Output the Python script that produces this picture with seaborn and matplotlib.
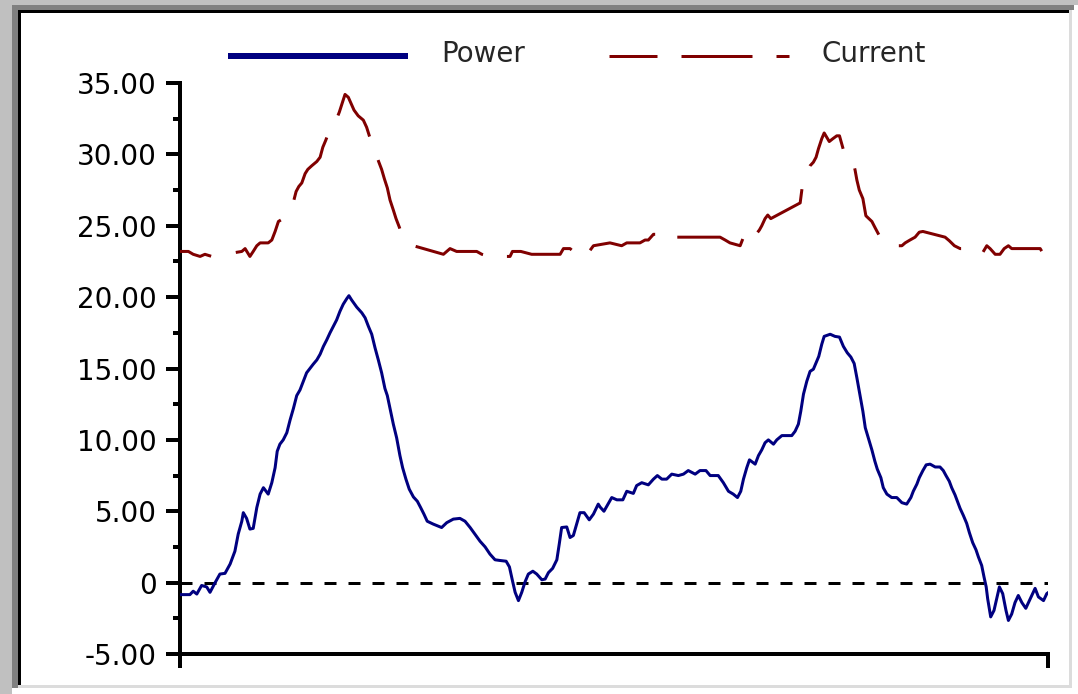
import matplotlib
matplotlib.use("Agg")
import matplotlib.pyplot as plt
from matplotlib.patches import Rectangle
from matplotlib.lines import Line2D
from matplotlib.legend_handler import HandlerLine2D
from matplotlib.ticker import FixedLocator, FuncFormatter
import numpy as np
import seaborn as sns
import pandas as pd

# ---------------- data ----------------
power_t = [0, 3.3, 4.4, 5.6, 7.2, 8.9, 10, 11.7, 13.3, 15, 16.7, 18.3, 19.4, 20.6, 21.1, 22.2,
           23.3, 24.4, 25.6, 26.7, 27.8, 29.4, 30.6, 31.7, 32.4, 33.3, 34.4, 35.6, 36.7, 37.8,
           38.9, 40, 41.1, 42.2, 43.3, 44.4, 45.6, 46.7, 47.8, 48.9, 50, 51.1, 52.2, 53.3, 54.4,
           55.6, 56.3, 57.2, 58.9, 60.6, 61.7, 62.8, 63.9, 65, 66.1, 67.2, 68.3, 69.1, 70, 71.1,
           72.2, 73.3, 74.2, 75.3, 76.4, 77.8, 79.1, 80.2, 81.3, 82.4, 84.4, 87.2, 88.9, 91.1,
           93.3, 95, 96.7, 98.3, 100, 101.7, 103.3, 105, 106.7, 108.7, 109.8, 110.8, 111.7,
           112.8, 113.9, 115, 116.1, 117.6, 118.9, 120.6, 121.7, 122.8, 124.2, 125.6, 126.4,
           127.2, 128.9, 130, 131.1, 132.2, 133.3, 134.7, 136.4, 137.8, 139.4,
           140, 141.3, 142.4, 143.9, 145.6, 147.6, 148.9, 151.1, 152.2, 153.9, 156.1, 157.8,
           159.1, 160.6, 162.2, 163.9, 166.1, 167.8, 169.4, 171.7, 173.3, 175.3, 176.7, 179.4,
           181.1, 182.8, 184.4, 185.8, 186.9, 187.8, 188.9, 189.8, 191.7, 192.8, 193.9, 195,
           196.1, 197.8, 198.9, 200.6, 203.9, 205, 206.1, 206.9, 207.8, 208.9, 210, 211.1, 212,
           212.9, 213.9, 214.7, 216.7, 218.3, 219.8, 221.1, 222.4, 223.6, 224.7, 225.6, 226.4,
           227.6, 228.4, 229.6, 230.6, 231.6, 232.4, 233.6, 234.4, 235.6, 237.2, 238.9, 240.6,
           242.2, 243.6, 244.4, 245.6, 246.4, 247.6, 248.7, 250, 251.7, 253.3, 254.4, 255.3,
           256.4, 257.2, 258.3, 259.2, 260, 261.1, 262.2, 263.1, 264.2, 265.3, 266.1, 267.2,
           268, 268.7, 269.2, 270.2, 271.3, 272.2, 273.1, 274.2, 275.3, 276.1, 277.2, 278.3,
           279.4, 280.6, 281.9, 283.1, 284.2, 285, 286.1, 287.8, 288.9, 290]
power = [-0.84, -0.84, -0.6, -0.8, -0.2, -0.3, -0.68, 0.0, 0.6, 0.65, 1.3, 2.2, 3.4, 4.3, 4.9,
         4.5, 3.75, 3.8, 5.26, 6.2, 6.65, 6.2, 7.0, 8.05, 9.2, 9.7, 10.0, 10.5, 11.4, 12.2, 13.1,
         13.5, 14.1, 14.7, 15.0, 15.3, 15.6, 16.0, 16.55, 17.0, 17.5, 17.95, 18.4, 19.0, 19.5,
         19.9, 20.1, 19.8, 19.3, 18.9, 18.55, 17.95, 17.4, 16.45, 15.6, 14.7, 13.6, 13.1, 12.2,
         11.1, 10.15, 8.9, 8.05, 7.25, 6.55, 6.0, 5.7, 5.26, 4.8, 4.3, 4.1, 3.86, 4.2, 4.45, 4.5,
         4.3, 3.86, 3.4, 2.9, 2.5, 2.0, 1.6, 1.55, 1.5, 1.1, 0.14, -0.68, -1.26, -0.68, 0.05,
         0.6, 0.8, 0.6, 0.2, 0.25, 0.7, 1.0, 1.6, 2.7, 3.86, 3.9, 3.16, 3.3, 4.1, 4.9, 4.9, 4.4,
         4.8, 5.5,
         5.3, 5.0, 5.4, 5.96, 5.8, 5.8, 6.4, 6.25, 6.8, 7.0, 6.85, 7.25, 7.5, 7.25, 7.25, 7.6,
         7.5, 7.6, 7.85, 7.6, 7.85, 7.85, 7.5, 7.5, 7.0, 6.4, 6.2, 5.96, 6.4, 7.25, 8.05, 8.6,
         8.3, 8.9, 9.3, 9.8, 10.0, 9.7, 10.0, 10.3, 10.3, 10.6, 11.1, 12.0, 13.2, 14.1, 14.8,
         14.95, 15.4, 15.85, 16.7, 17.25, 17.4, 17.25, 17.2, 16.55, 16.1, 15.8, 15.35, 14.35,
         13.4, 12.0, 10.85, 10.0, 9.3, 8.5, 7.95, 7.35, 6.65, 6.2, 5.96, 5.96, 5.6, 5.5, 5.96,
         6.4, 6.9, 7.35, 7.85, 8.25, 8.3, 8.1, 8.1, 7.85, 7.5, 7.1, 6.65, 6.15, 5.65, 5.2, 4.7,
         4.15, 3.5, 2.8, 2.3, 1.8, 1.2, 0.37, -0.3, -1.14, -2.4, -1.95, -1.14, -0.3, -0.77,
         -1.95, -2.65, -2.2, -1.4, -0.9, -1.4, -1.8, -1.26, -0.77, -0.4, -1.0, -1.26, -0.77, -0.6]

current_t = [0, 2.8, 4.4, 6.7, 8.3, 10.6, 20.6, 21.7, 23.3, 24.4, 25.6, 26.7, 29.4, 30.6, 31.7,
             32.8, 34.4, 35.6, 36.7, 37.6, 38.7, 39.6, 40.6, 41.7, 42.6, 43.9, 45.6, 46.7, 47.6,
             48.6, 49.4, 50.2, 51.1, 53.1, 55, 56.1, 58, 59.4, 61.1, 62.2, 63.1, 64.2, 65.2,
             66.2, 67.2, 68.1, 69.1, 70, 71.1, 72, 73.1, 74.1, 75.2, 76.2, 77.8, 87.8, 90, 92.2,
             98.9, 100.6, 103.3, 105, 106.7, 110, 110.8, 113.6, 117.2, 126.7, 127.8, 130, 131.1,
             132.8, 133.9, 135.6, 136.4, 137.8, 143.3, 147.2, 148.9, 150,
             151.7, 153.3, 155, 156.1, 157.8, 159.4, 161.1, 162.2, 163.3, 170,
             180, 181.7, 183.3, 186.7, 187.8, 188.9, 189.8, 190.9, 192, 193.1, 193.9, 195, 195.9,
             196.9, 206.7, 207.8, 208.9, 210, 211.1, 212, 212.8, 213.9, 214.7, 216.4, 217.6,
             218.9, 219.8, 221.4, 222.8, 224.4, 225, 225.6, 226.4, 227.6, 228.6, 230.6, 231.7,
             232.6, 233.6, 235, 236.7, 240.6, 241.7, 243.3, 245, 246.4, 247.6, 255, 256.4, 258.1,
             260, 262.2, 263.3, 265.6, 267.2, 268.9, 270, 271.7, 273.3, 274.7, 276.1, 277.2,
             286.7, 287.8]
current = [23.2, 23.2, 23.0, 22.85, 23.0, 22.85, 23.2, 23.4, 22.85, 23.2, 23.6, 23.8, 23.8,
           24.0, 24.6, 25.3, 25.5, 25.75, 26.3, 26.5, 27.4, 27.75, 28.0, 28.65, 28.95, 29.2,
           29.5, 29.8, 30.5, 31.0, 31.45, 31.7, 31.9, 32.96, 34.2, 34.0, 33.1, 32.7, 32.4, 31.9,
           31.3, 30.7, 30.1, 29.5, 28.95, 28.3, 27.65, 26.8, 26.1, 25.5, 24.9, 24.3, 24.0, 23.8,
           23.6, 23.0, 23.4, 23.2, 23.2, 23.0, 22.85, 23.0, 22.85, 22.85, 23.2, 23.2, 23.0,
           23.0, 23.4, 23.4, 23.2, 23.2, 23.6, 23.4, 23.2, 23.6, 23.8, 23.6, 23.8, 23.8,
           23.8, 23.8, 24.0, 24.0, 24.4, 24.4, 24.2, 24.0, 24.2, 24.2,
           24.2, 24.0, 23.8, 23.6, 24.2, 24.7, 24.85, 24.6, 24.4, 24.7, 25.0, 25.5, 25.75,
           25.5, 26.6, 28.4, 28.75, 29.2, 29.45, 29.8, 30.4, 31.1, 31.5, 30.9, 31.1, 31.3,
           31.3, 30.1, 29.5, 29.45, 28.9, 28.2, 27.5, 26.9, 25.7, 25.3, 24.85, 24.5, 24.1, 23.8,
           23.6, 23.6, 23.8, 24.0, 24.2, 24.55, 24.6, 24.2, 23.95, 23.6, 23.4, 23.4, 23.2, 23.0,
           23.0, 23.6, 23.4, 23.0, 23.0, 23.4, 23.6, 23.4, 23.4, 23.0]

y_ticks = [-5, 0, 5, 10, 15, 20, 25, 30, 35]
series_names = ["Power", "Current"]

# ---------------- style ----------------
W, H = 1078, 694
PX = 72.0 / 100.0  # points per pixel at dpi=100
NAVY = "#000080"
MAROON = "#800000"

sns.set_theme(style="white")
plt.rcParams["font.family"] = ["DejaVu Sans"]
plt.rcParams["lines.scale_dashes"] = False

fig = plt.figure(figsize=(W / 100, H / 100), dpi=100, facecolor="white")


def px_rect(x, y, w, h, color):
    fig.patches.append(Rectangle((x / W, 1 - (y + h) / H), w / W, h / H,
                                 transform=fig.transFigure, facecolor=color,
                                 edgecolor="none", zorder=0))


# window-like sunken border
px_rect(0, 0, W, 5, "#c0c0c0")
px_rect(0, 0, 12, H, "#c0c0c0")
px_rect(12, 5, 1062, 5, "#808080")
px_rect(12, 5, 6, 683, "#808080")
px_rect(18, 10, 1051, 3, "#000000")
px_rect(18, 10, 3, 675, "#000000")
px_rect(1069, 10, 3, 678, "#dcdcdc")
px_rect(18, 685, 1054, 3, "#dcdcdc")

ax_left, ax_right, ax_top, ax_bottom = 180, 1048, 83, 654
ax = fig.add_axes([ax_left / W, 1 - ax_bottom / H, (ax_right - ax_left) / W,
                   (ax_bottom - ax_top) / H])
ax.set_facecolor("none")

df_p = pd.DataFrame({"t": power_t, "v": power})
df_c = pd.DataFrame({"t": current_t, "v": current})

# zero reference line
ax.axhline(0, color="black", lw=3 * PX, linestyle=(0, (12 * PX, 12 * PX)), zorder=1)

sns.lineplot(data=df_c, x="t", y="v", color=MAROON, lw=3 * PX, ax=ax,
             sort=False, estimator=None, legend=False, zorder=3)
cur_line = ax.lines[-1]
cur_line.set_linestyle((39 * PX, (72 * PX, 25 * PX)))
cur_line.set_dash_capstyle("butt")

sns.lineplot(data=df_p, x="t", y="v", color=NAVY, lw=3 * PX, ax=ax,
             sort=False, estimator=None, legend=False, zorder=4)

ax.set_xlim(0, 289.3)
ax.set_ylim(-5, 35)
ax.set_xlabel("")
ax.set_ylabel("")

for s in ["top", "right"]:
    ax.spines[s].set_visible(False)
for s in ["left", "bottom"]:
    ax.spines[s].set_color("black")
    ax.spines[s].set_linewidth(4 * PX)

ax.yaxis.set_major_locator(FixedLocator(y_ticks))
ax.yaxis.set_minor_locator(FixedLocator([v + 2.5 for v in y_ticks[:-1]]))
ax.yaxis.set_major_formatter(FuncFormatter(lambda v, p: "0" if abs(v) < 1e-9 else f"{v:.2f}"))
ax.tick_params(axis="y", which="major", direction="out", length=14 * PX, width=4 * PX,
               color="black", labelsize=20, labelcolor="black", pad=9 * PX, left=True)
ax.tick_params(axis="y", which="minor", direction="out", length=7 * PX, width=4 * PX,
               color="black", left=True)
ax.xaxis.set_major_locator(FixedLocator([0, 289.3]))
ax.tick_params(axis="x", which="major", direction="out", length=14 * PX, width=4 * PX,
               color="black", labelbottom=False, bottom=True)


class ShiftedLine(HandlerLine2D):
    """Legend line drawn a few pixels below the text centre, as in the reference."""

    def create_artists(self, legend, orig_handle, xdescent, ydescent, width, height,
                       fontsize, trans):
        arts = super().create_artists(legend, orig_handle, xdescent, ydescent, width,
                                      height, fontsize, trans)
        for a in arts:
            a.set_ydata(np.asarray(a.get_ydata()) - 4 * PX)
        return arts


# legend
h_power = Line2D([], [], color=NAVY, lw=6 * PX, solid_capstyle="butt")
h_cur = Line2D([], [], color=MAROON, lw=3 * PX, dash_capstyle="butt",
               linestyle=(23 * PX, (71 * PX, 24 * PX)))
fs_px = 20 / PX
fig.legend([h_power, h_cur], series_names, loc="center left",
           bbox_to_anchor=(228 / W, 1 - 54 / H), ncol=2, frameon=False, fontsize=20,
           handlelength=180 / fs_px, handletextpad=33 / fs_px, columnspacing=84 / fs_px,
           borderpad=0, borderaxespad=0,
           handler_map={Line2D: ShiftedLine()})

fig.savefig("out.png", dpi=100, facecolor="white")
